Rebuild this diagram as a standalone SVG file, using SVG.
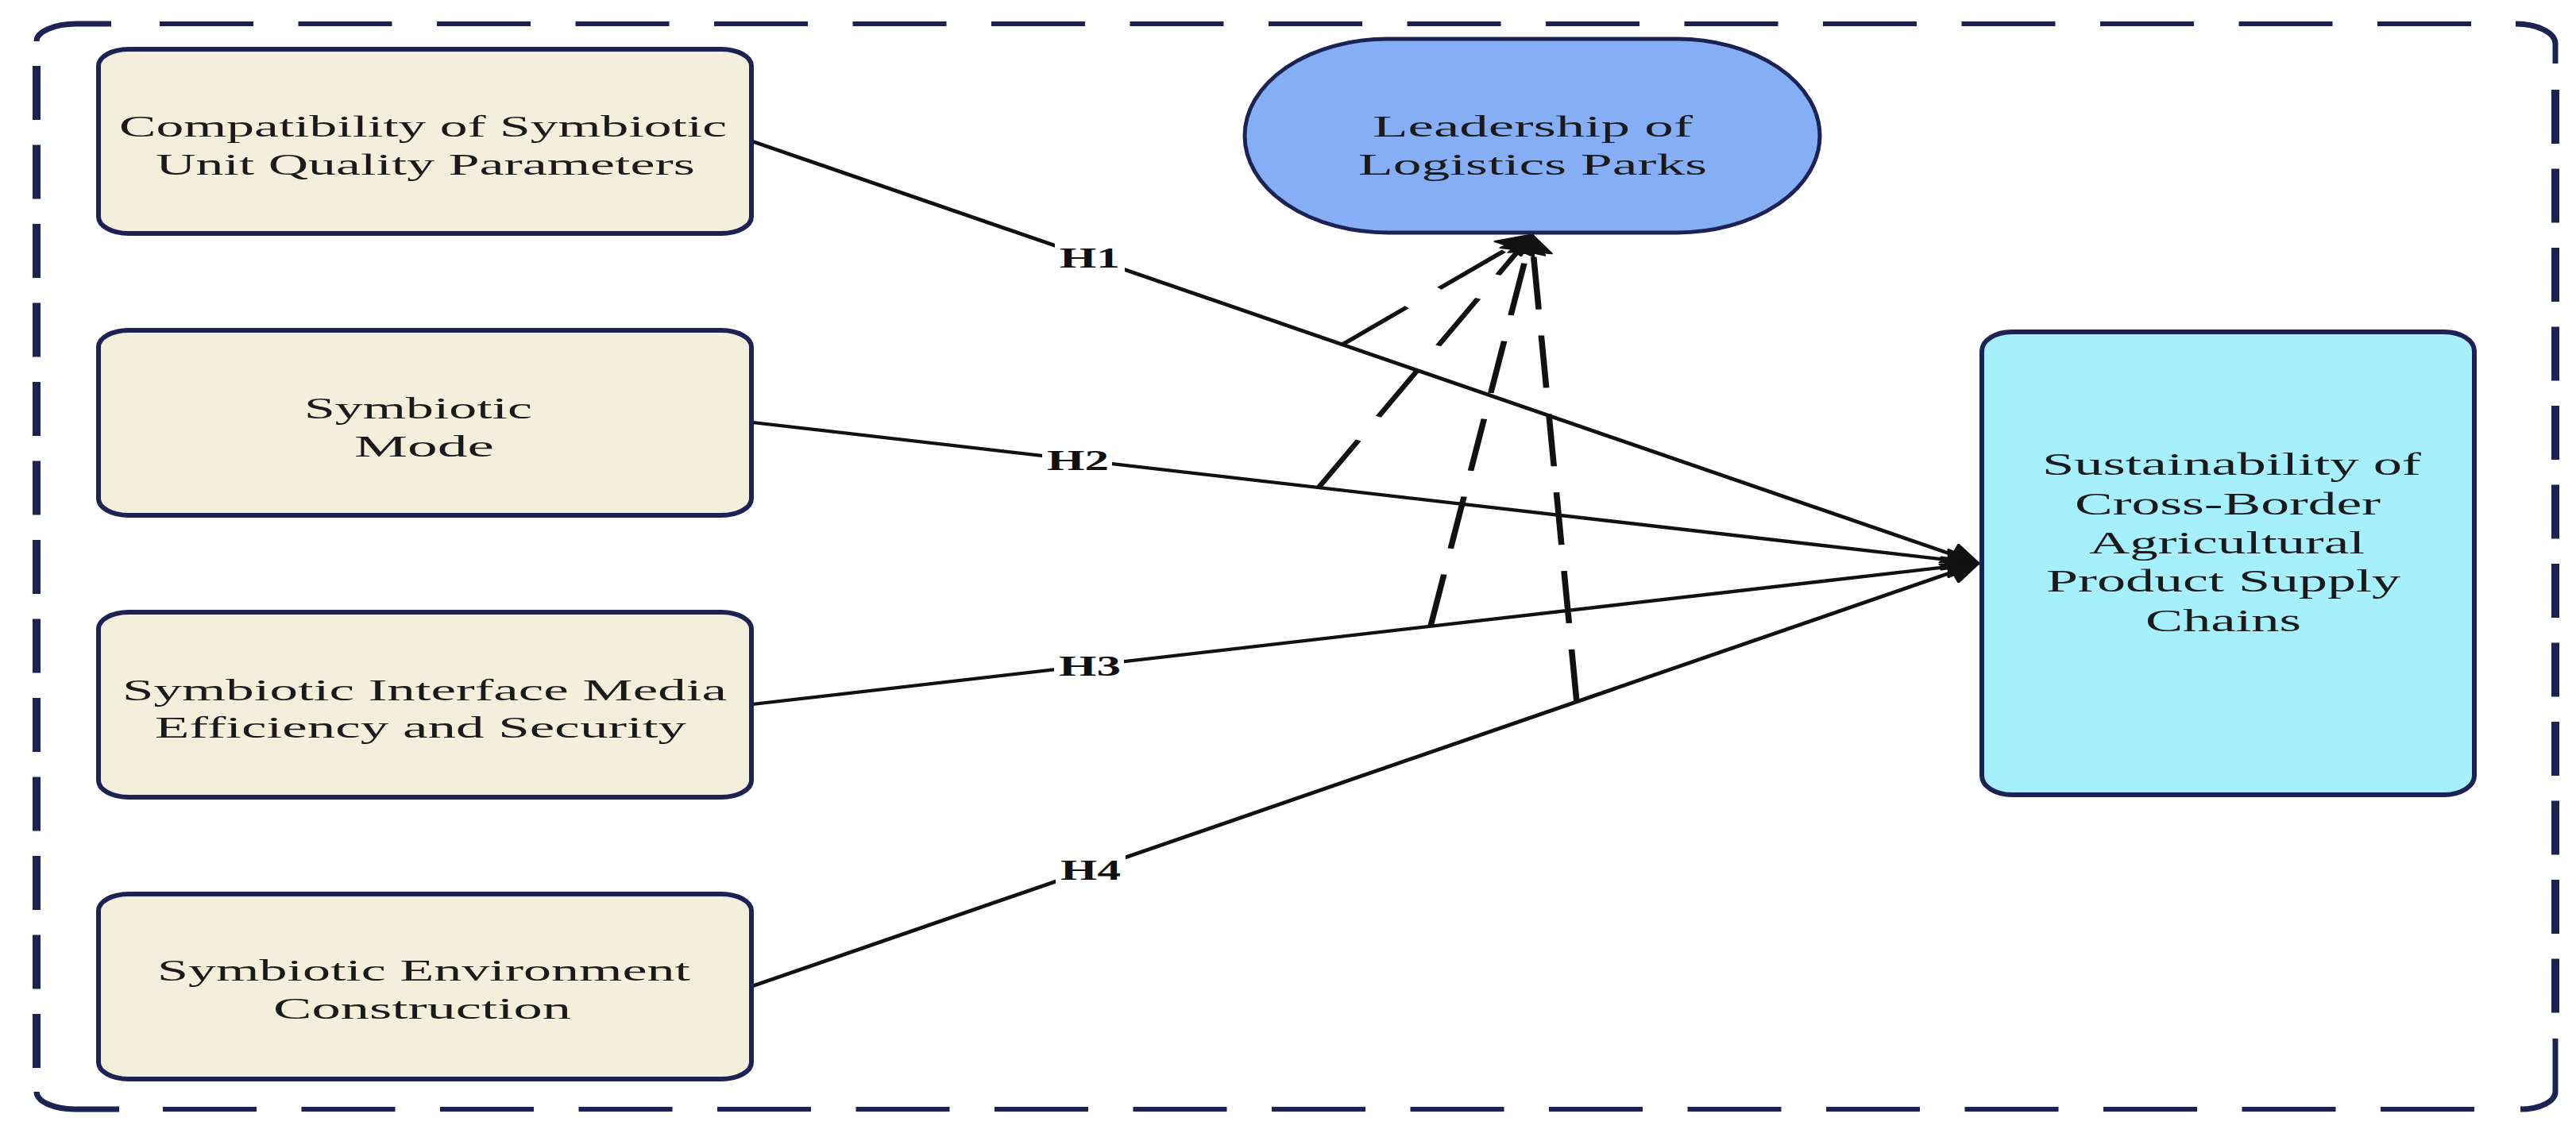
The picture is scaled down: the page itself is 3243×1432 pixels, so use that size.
<svg xmlns="http://www.w3.org/2000/svg" width="3243" height="1432" viewBox="0 0 3243 1432">
  <defs>
    <style>
      .frame { fill: none; stroke: #1c2354; stroke-linecap: butt; }
      .fh { stroke-width: 6; stroke-dasharray: 118 56.5; }
      .fv { stroke-width: 10; stroke-dasharray: 68 31.5; }
      .fc { stroke-width: 7; }
      .box { fill: #f4eedd; stroke: #1c2354; stroke-width: 6; }
      .med { fill: #86aef5; stroke: #1c2354; stroke-width: 5; }
      .out { fill: #a6effc; stroke: #1c2354; stroke-width: 6; }
      .t { font-family: "Liberation Serif", "Times New Roman", serif; font-size: 38px; fill: #1a1a1a; }
      .t40 { font-size: 40px; }
      .edge { fill: none; stroke: #111111; stroke-width: 4.3; }
      .dash { stroke-dasharray: 66 33; }
      .lbl { font-family: "Liberation Serif", "Times New Roman", serif; font-size: 36px; font-weight: bold; fill: #111111; }
      .lblbg { fill: #ffffff; }
    </style>
    <marker id="ah" markerUnits="userSpaceOnUse" markerWidth="40" markerHeight="40" refX="0" refY="0" orient="auto" overflow="visible">
      <path d="M1,0 L-24,-13 L-21,0 L-24,13 Z" fill="#111111" stroke="#111111" stroke-width="2" stroke-linejoin="round"/>
    </marker>
  </defs>
  <rect width="3243" height="1432" fill="#ffffff"/>

  <g id="frame" class="frame">
    <path class="fc" d="M46,52 A50,22 0 0 1 96,30 L140,30"/>
    <path class="fh" d="M201,30 H3111"/>
    <path class="fc" d="M3167,30 A50,25 0 0 1 3217,55 V80"/>
    <path class="fv" d="M3217,113 V1276"/>
    <path class="fc" d="M3217,1308 V1375 A44,22 0 0 1 3173,1397"/>
    <path class="fh" d="M205,1397 H3116"/>
    <path class="fc" d="M150,1397 H94 A48,22 0 0 1 46,1375"/>
    <path class="fv" d="M46,83 V1351"/>
  </g>

  <g id="connectors">
    <g transform="scale(1.76,1)">
      <path class="edge" marker-end="url(#ah)" d="M538.1,178 L1414.8,709.5"/>
      <path class="edge" marker-end="url(#ah)" d="M538.1,532 L1414.8,709.5"/>
      <path class="edge" marker-end="url(#ah)" d="M538.1,887 L1414.8,709.5"/>
      <path class="edge" marker-end="url(#ah)" d="M538.1,1242 L1414.8,709.5"/>
      <path class="edge dash" marker-end="url(#ah)" d="M960.2,433.9 L1095.5,296"/>
      <path class="edge dash" marker-end="url(#ah)" d="M943.2,614 L1095.5,296"/>
      <path class="edge dash" marker-end="url(#ah)" d="M1023.3,788.8 L1095.5,296"/>
      <path class="edge dash" marker-end="url(#ah)" d="M1127.8,883.8 L1095.5,296"/>
    </g>
    <g id="edge-labels">
      <rect class="lblbg" x="1328" y="306" width="88" height="38"/>
      <text class="lbl" x="1334" y="337" textLength="76" lengthAdjust="spacingAndGlyphs">H1</text>
      <rect class="lblbg" x="1312" y="561" width="88" height="38"/>
      <text class="lbl" x="1318" y="592" textLength="78" lengthAdjust="spacingAndGlyphs">H2</text>
      <rect class="lblbg" x="1327" y="819" width="88" height="38"/>
      <text class="lbl" x="1333" y="851" textLength="78" lengthAdjust="spacingAndGlyphs">H3</text>
      <rect class="lblbg" x="1329" y="1076" width="88" height="38"/>
      <text class="lbl" x="1335" y="1108" textLength="76" lengthAdjust="spacingAndGlyphs">H4</text>
    </g>
  </g>

  <g id="node-compat">
    <rect class="box" x="124" y="62" width="822" height="232" rx="38" ry="21"/>
    <text class="t" x="150" y="172" textLength="765" lengthAdjust="spacingAndGlyphs">Compatibility of Symbiotic</text>
    <text class="t" x="196" y="220" textLength="679" lengthAdjust="spacingAndGlyphs">Unit Quality Parameters</text>
  </g>

  <g id="node-mode">
    <rect class="box" x="124" y="416" width="822" height="233" rx="38" ry="21"/>
    <text class="t" x="383" y="527" textLength="287" lengthAdjust="spacingAndGlyphs">Symbiotic</text>
    <text class="t" x="446" y="575" textLength="176" lengthAdjust="spacingAndGlyphs">Mode</text>
  </g>

  <g id="node-interface">
    <rect class="box" x="124" y="771" width="822" height="233" rx="38" ry="21"/>
    <text class="t" x="154" y="882" textLength="761" lengthAdjust="spacingAndGlyphs">Symbiotic Interface Media</text>
    <text class="t" x="195" y="929" textLength="669" lengthAdjust="spacingAndGlyphs">Efficiency and Security</text>
  </g>

  <g id="node-environment">
    <rect class="box" x="124" y="1126" width="822" height="233" rx="38" ry="21"/>
    <text class="t" x="198" y="1235" textLength="671" lengthAdjust="spacingAndGlyphs">Symbiotic Environment</text>
    <text class="t" x="344" y="1283" textLength="375" lengthAdjust="spacingAndGlyphs">Construction</text>
  </g>

  <g id="node-leadership">
    <rect class="med" x="1567" y="49" width="724" height="244" rx="180" ry="122"/>
    <text class="t" x="1728" y="172" textLength="403" lengthAdjust="spacingAndGlyphs">Leadership of</text>
    <text class="t" x="1710" y="220" textLength="439" lengthAdjust="spacingAndGlyphs">Logistics Parks</text>
  </g>

  <g id="node-sustainability">
    <rect class="out" x="2495" y="418" width="620" height="583" rx="38" ry="24"/>
    <text class="t t40" x="2571" y="598" textLength="477" lengthAdjust="spacingAndGlyphs">Sustainability of</text>
    <text class="t t40" x="2612" y="648" textLength="385" lengthAdjust="spacingAndGlyphs">Cross-Border</text>
    <text class="t t40" x="2630" y="697" textLength="347" lengthAdjust="spacingAndGlyphs">Agricultural</text>
    <text class="t t40" x="2576" y="745" textLength="446" lengthAdjust="spacingAndGlyphs">Product Supply</text>
    <text class="t t40" x="2701" y="795" textLength="196" lengthAdjust="spacingAndGlyphs">Chains</text>
  </g>
</svg>
